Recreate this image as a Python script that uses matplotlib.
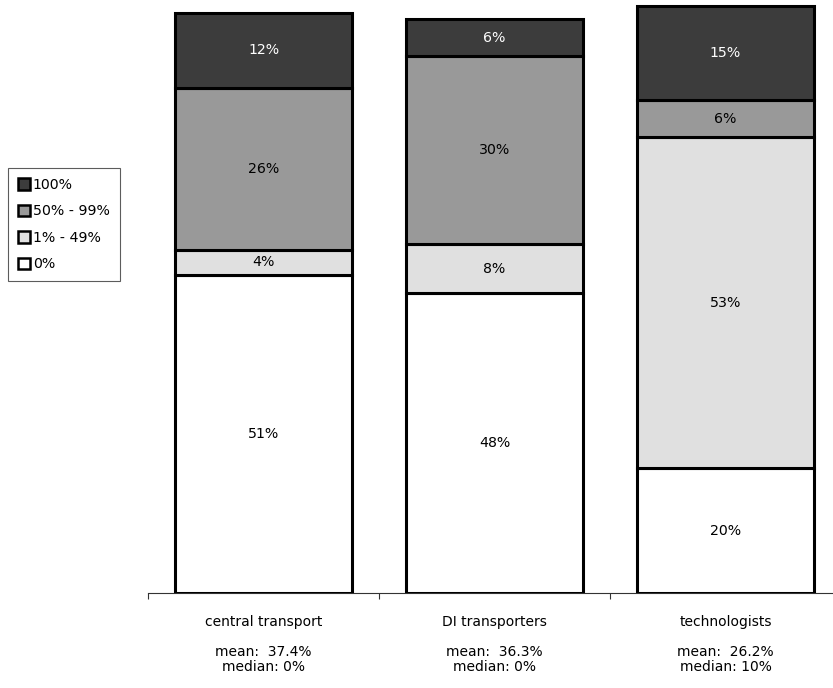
import matplotlib
matplotlib.use("Agg")
import matplotlib.pyplot as plt
from matplotlib.patches import Patch

# share of cases in each band, per group
groups = ["central transport", "DI transporters", "technologists"]
bands = ["0%", "1% - 49%", "50% - 99%", "100%"]
pct_0 = [51, 48, 20]
pct_1_49 = [4, 8, 53]
pct_50_99 = [26, 30, 6]
pct_100 = [12, 6, 15]
means = ["37.4%", "36.3%", "26.2%"]
medians = ["0%", "0%", "10%"]

band_colors = ["#ffffff", "#e0e0e0", "#999999", "#3c3c3c"]
text_colors = ["black", "black", "black", "white"]

plt.rcParams["font.family"] = ["DejaVu Sans"]
fig = plt.figure(figsize=(8.33, 6.88), dpi=100)
ax = fig.add_axes([148 / 833, 1 - 593 / 688, 693 / 833, 593 / 688])

xs = [0.5, 1.5, 2.5]
bottom = [0, 0, 0]
for vals, col, tcol in zip([pct_0, pct_1_49, pct_50_99, pct_100], band_colors, text_colors):
    ax.bar(xs, vals, width=0.762, bottom=bottom, color=col,
           edgecolor="black", linewidth=2.2, zorder=3)
    for x, b, v in zip(xs, bottom, vals):
        ax.text(x, b + v / 2, f"{v}%", ha="center", va="center",
                fontsize=10.2, color=tcol, zorder=4)
    bottom = [b + v for b, v in zip(bottom, vals)]

ax.set_xlim(0, 3)
ax.set_ylim(0, 593 / 6.24)
for s in ["top", "right", "left"]:
    ax.spines[s].set_visible(False)
ax.spines["bottom"].set_color("#333333")
ax.spines["bottom"].set_linewidth(0.8)
ax.set_yticks([])
ax.set_xticks([0, 1, 2, 3])
ax.set_xticklabels([])
ax.tick_params(axis="x", direction="out", length=4, width=0.8, color="#333333")

for x, g, m, md in zip(xs, groups, means, medians):
    ax.annotate(g, xy=(x, 0), xycoords=("data", "axes fraction"),
                xytext=(0, -21), textcoords="offset points",
                ha="center", va="center", fontsize=10)
    ax.annotate(f"mean:  {m}\nmedian: {md}", xy=(x, 0),
                xycoords=("data", "axes fraction"),
                xytext=(0, -48), textcoords="offset points",
                ha="center", va="center", fontsize=10, linespacing=1.05)

handles = [Patch(facecolor=c, edgecolor="black", linewidth=1.8)
           for c in band_colors[::-1]]
leg = fig.legend(handles, bands[::-1], loc="upper left",
                 bbox_to_anchor=(8 / 833, 1 - 168 / 688),
                 fontsize=10.2, frameon=True, fancybox=False,
                 edgecolor="#333333", handlelength=0.85, handleheight=0.85,
                 handletextpad=0.2, borderpad=0.7, labelspacing=0.88,
                 borderaxespad=0)
leg.get_frame().set_linewidth(0.8)

fig.savefig("out.png", dpi=100)
